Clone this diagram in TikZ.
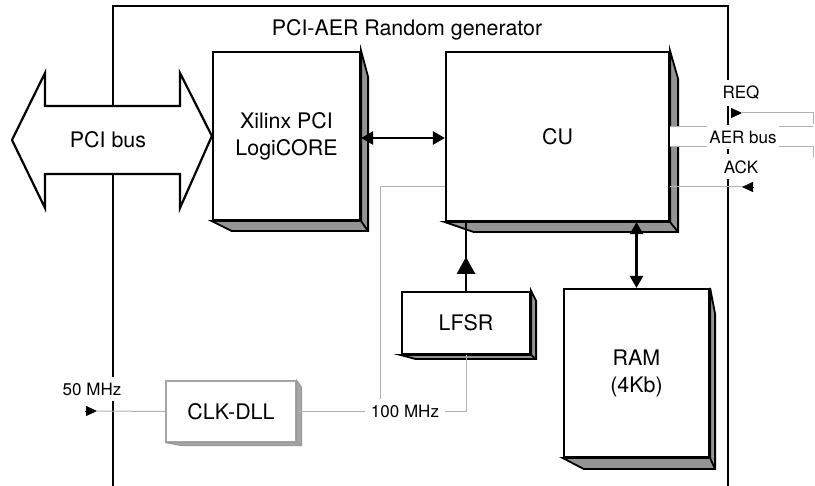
\documentclass[tikz,border=0pt]{standalone}
\usepackage{fontspec}
\setmainfont{TeX Gyre Heros}
\usetikzlibrary{arrows.meta,calc}

\newcommand{\blkfont}{\fontsize{10.7pt}{13.5pt}\selectfont}
\newcommand{\lblfont}{\fontsize{8.5pt}{10pt}\selectfont}

% 3D-ish shadow behind a block: node, dx, dy, bottom slant, side slant
\newcommand{\blockshade}[6][blkshadow]{%
  \filldraw[#1] (#2.north east) -- ++(#3,#6) -- ($(#2.south east)+(#3,#4)$)
    -- ($(#2.south west)+(#5,#4)$) -- (#2.south west) -- (#2.south east) -- cycle;
  \draw[#1] (#2.south east) -- ++(#3,#4);
}

\tikzset{
  blk/.style={draw, fill=white, line width=1.1pt, align=center, font=\blkfont, inner sep=0pt},
  blkshadow/.style={draw=black, fill=black!42, line width=0.9pt},
  clkbox/.style={draw=black!35, fill=white, line width=0.6pt, font=\blkfont, inner sep=0pt},
  clkshadow/.style={draw=black!40, fill=black!35, line width=0.5pt},
  bus/.style={line width=1.3pt, {Triangle[length=6pt,width=6.5pt]}-{Triangle[length=6pt,width=6.5pt]}},
  sig/.style={draw=black!30, line width=0.5pt},
  pin/.style={-{Triangle[length=5.5pt,width=5pt]}, line width=0.4pt, black},
  lbl/.style={fill=white, inner sep=3pt, font=\lblfont},
}

\begin{document}
\begin{tikzpicture}[x=0.5pt, y=-0.5pt]
  \useasboundingbox (0,0) rectangle (815,486);

  % board frame
  \draw[line width=1.1pt] (113,490) -- (113,6) -- (728,6) -- (728,490);
  \node[font=\blkfont] (title) at (407,30) {PCI-AER Random generator};

  % blocks
  \node[blk, minimum width=73.5pt, minimum height=84pt] (pci) at (286.5,136) {Xilinx PCI\\LogiCORE};
  \blockshade{pci}{7}{10}{20}{26}
  \node[blk, minimum width=111.5pt, minimum height=84.5pt] (cu) at (557.5,136.5) {CU};
  \blockshade{cu}{8}{10}{29}{28}
  \node[blk, minimum width=64pt, minimum height=31pt] (lfsr) at (466,323) {LFSR};
  \blockshade{lfsr}{5}{4}{15}{10}
  \node[blk, minimum width=72.5pt, minimum height=84pt] (ram) at (636.5,373) {RAM\\(4Kb)};
  \blockshade{ram}{5}{11}{21}{26}
  \node[clkbox, minimum width=65pt, minimum height=30.5pt] (clk) at (231,411.5) {CLK-DLL};
  \blockshade[clkshadow]{clk}{5}{3}{16}{7}

  % PCI bus
  \draw[line width=1.1pt, fill=white] (12,140) -- (45,73) -- (45,106) -- (180,106) -- (180,73)
    -- (pci.west) -- (180,208) -- (180,174) -- (45,174) -- (45,208) -- cycle;
  \node[font=\blkfont] (pcibus) at (108,140) {PCI bus};

  % data paths
  \draw[bus] (pci.east |- 0,138) -- (cu.west |- 0,138);
  \draw[bus] (ram.north) -- (ram.north |- cu.south);
  \draw[line width=1.3pt] (lfsr.north) -- (lfsr.north |- cu.south);
  \draw[line width=1.3pt, -{Triangle[length=8.5pt,width=9pt]}] (lfsr.north) -- ++(0,-34);

  % clocks
  \coordinate (in50) at (97,411);
  \coordinate (tap) at (380,411);
  \draw[pin] (85,411) -- (in50);
  \draw[sig] (in50) -- (clk.west);
  \draw[sig] (clk.east) -- (lfsr.south |- clk.east) -- (lfsr.south);
  \draw[sig] (tap) -- (380,187) -- (cu.west |- 0,187);
  \node[lbl] (f50) at (92,389) {50 MHz};
  \node[lbl] (f100) at (405,411) {100 MHz};

  % AER bus
  \fill[white] (cu.east |- 0,127) rectangle (815,147);
  \draw[sig] (cu.east |- 0,127) -- (813,127);
  \draw[sig] (cu.east |- 0,147) -- (813,147) -- (813,157);
  \coordinate (req) at (742,113);
  \coordinate (ack) at (753,187);
  \draw[pin] (731,113) -- (req);
  \draw[sig] (req) -- (813,113) -- (813,124);
  \draw[sig] (cu.east |- ack) -- (ack);
  \draw[pin] (ack) -- ++(-11,0);
  \node[lbl] (reqlbl) at (741,93) {REQ};
  \node[lbl, inner xsep=1pt] (aerlbl) at (743,137) {AER bus};
  \node[lbl] (acklbl) at (741,167) {ACK};
\end{tikzpicture}
\end{document}
